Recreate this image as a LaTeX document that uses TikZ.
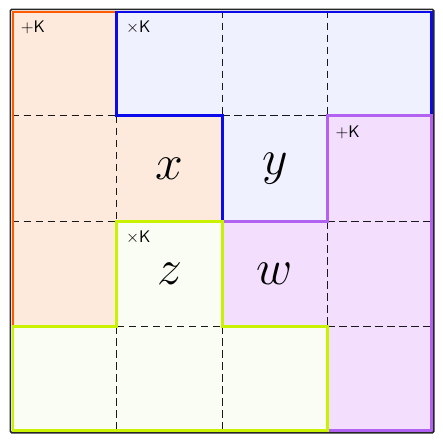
\documentclass[tikz,border=0pt]{standalone}
\usepackage{amsmath}
\usepackage{tikz}

\definecolor{peachfill}{RGB}{253,234,220}
\definecolor{orangeline}{RGB}{255,90,0}
\definecolor{lavenderfill}{RGB}{240,241,254}
\definecolor{blueline}{RGB}{10,10,235}
\definecolor{lilacfill}{RGB}{243,222,253}
\definecolor{purpleline}{RGB}{178,98,240}
\definecolor{ivoryfill}{RGB}{250,253,243}
\definecolor{limeline}{RGB}{200,242,0}

\tikzset{
  gridline/.style={draw=black!90, line width=1.1pt, dash pattern=on 7.5pt off 4.5pt},
  regionline/.style={line width=2.8pt, line join=miter},
  tag/.style={anchor=base west, inner sep=0pt, font=\sffamily\large, scale=1.4},
  cellvar/.style={inner sep=0pt, font=\Huge, scale=2}
}

\begin{document}
\begin{tikzpicture}[x=1pt,y=1pt,yscale=-1,xscale=1]
        \useasboundingbox (0,0) rectangle (443,442);

        %Shape: Polygon [orange region] 
        \fill[peachfill] (11.5,10.5) -- (116.8,10.5) -- (116.8,115.8) -- (222.1,115.8) -- (222.1,221.1) -- (116.8,221.1) -- (116.8,326.4) -- (11.5,326.4) -- cycle ;
        %Shape: Polygon [blue region] 
        \fill[lavenderfill] (116.8,10.5) -- (432.7,10.5) -- (432.7,115.8) -- (327.4,115.8) -- (327.4,221.1) -- (222.1,221.1) -- (222.1,115.8) -- (116.8,115.8) -- cycle ;
        %Shape: Polygon [purple region] 
        \fill[lilacfill] (327.4,115.8) -- (432.7,115.8) -- (432.7,431.7) -- (327.4,431.7) -- (327.4,326.4) -- (222.1,326.4) -- (222.1,221.1) -- (327.4,221.1) -- cycle ;
        %Shape: Polygon [lime region] 
        \fill[ivoryfill] (116.8,221.1) -- (222.1,221.1) -- (222.1,326.4) -- (327.4,326.4) -- (327.4,431.7) -- (11.5,431.7) -- (11.5,326.4) -- (116.8,326.4) -- cycle ;

        %Straight Lines [cells inside orange] 
        \draw[gridline] (11.5,115.8) -- (116.8,115.8) ;
        \draw[gridline] (11.5,221.1) -- (116.8,221.1) ;
        \draw[gridline] (116.8,115.8) -- (116.8,221.1) ;
        %Straight Lines [cells inside blue] 
        \draw[gridline] (222.1,10.5) -- (222.1,115.8) ;
        \draw[gridline] (327.4,10.5) -- (327.4,115.8) ;
        \draw[gridline] (222.1,115.8) -- (327.4,115.8) ;
        %Straight Lines [cells inside purple] 
        \draw[gridline] (327.4,221.1) -- (432.7,221.1) ;
        \draw[gridline] (327.4,326.4) -- (432.7,326.4) ;
        \draw[gridline] (327.4,221.1) -- (327.4,326.4) ;
        %Straight Lines [cells inside lime] 
        \draw[gridline] (116.8,326.4) -- (116.8,431.7) ;
        \draw[gridline] (222.1,326.4) -- (222.1,431.7) ;
        \draw[gridline] (116.8,326.4) -- (222.1,326.4) ;

        %Shape: Polygon [orange border] 
        \draw[regionline, orangeline] (13,12) -- (116.8,12) -- (116.8,115.8) -- (222.1,115.8) -- (222.1,221.1) -- (116.8,221.1) -- (116.8,326.4) -- (13,326.4) -- cycle ;
        %Shape: Polygon [blue border] 
        \draw[regionline, blueline] (116.8,12) -- (431.2,12) -- (431.2,115.8) -- (327.4,115.8) -- (327.4,221.1) -- (222.1,221.1) -- (222.1,115.8) -- (116.8,115.8) -- cycle ;
        %Shape: Polygon [purple border] 
        \draw[regionline, purpleline] (327.4,115.8) -- (431.2,115.8) -- (431.2,430.2) -- (327.4,430.2) -- (327.4,326.4) -- (222.1,326.4) -- (222.1,221.1) -- (327.4,221.1) -- cycle ;
        %Shape: Polygon [lime border] 
        \draw[regionline, limeline] (116.8,221.1) -- (222.1,221.1) -- (222.1,326.4) -- (327.4,326.4) -- (327.4,430.2) -- (13,430.2) -- (13,326.4) -- (116.8,326.4) -- cycle ;

        %Shape: Rectangle [outer frame] 
        \draw[line width=1.6pt, black!85, rounded corners=1.5pt] (10.3,9.3) rectangle (433.9,432.9) ;

        % Text Node
        \node[tag] (tagorange) at (20.5,32) {$+$K};
        % Text Node
        \node[tag] (tagblue) at (125.8,32) {$\times$K};
        % Text Node
        \node[tag] (tagpurple) at (335.4,137) {$+$K};
        % Text Node
        \node[tag] (taglime) at (125.8,242) {$\times$K};
        % Text Node
        \node[cellvar] (cellx) at (169.5,168.5) {$x$};
        % Text Node
        \node[cellvar] (celly) at (274.8,168.5) {$y$};
        % Text Node
        \node[cellvar] (cellz) at (169.5,273.8) {$z$};
        % Text Node
        \node[cellvar] (cellw) at (274.8,273.8) {$w$};
        \end{tikzpicture}
\end{document}
